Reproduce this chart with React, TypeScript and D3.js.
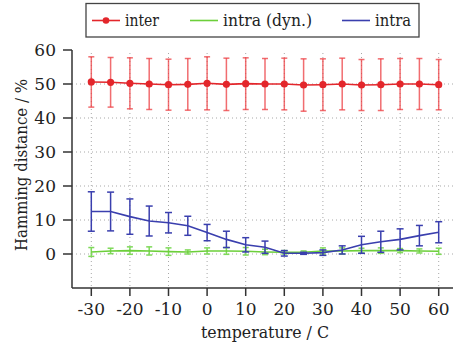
import React from 'react';
import * as d3 from 'd3';

const temps = [-30, -25, -20, -15, -10, -5, 0, 5, 10, 15, 20, 25, 30, 35, 40, 45, 50, 55, 60];
const interMean = [50.6, 50.5, 50.2, 50.0, 49.8, 49.9, 50.2, 49.9, 50.1, 50.0, 50.0, 49.7, 49.8, 50.0, 49.7, 49.8, 50.0, 50.0, 49.8];
const interStd = [7.4, 7.3, 7.5, 7.5, 7.5, 7.6, 7.8, 7.7, 7.6, 7.5, 7.6, 7.7, 7.6, 7.6, 7.5, 7.6, 7.5, 7.5, 7.4];
const dynMean = [0.6, 0.9, 1.0, 0.9, 0.7, 0.6, 0.9, 0.9, 0.8, 0.6, 0.5, 0.5, 0.9, 0.9, 1.0, 1.0, 1.0, 0.9, 0.8];
const dynStd = [1.3, 0.8, 1.1, 1.2, 1.1, 0.6, 0.9, 1.0, 1.1, 0.8, 0.5, 0.4, 0.9, 0.9, 0.7, 0.8, 0.6, 0.6, 0.9];
const intraMean = [12.5, 12.5, 11.0, 9.7, 9.2, 8.3, 6.3, 4.3, 2.7, 2.0, 0.2, 0.2, 0.4, 1.2, 2.7, 3.6, 4.3, 5.4, 6.4];
const intraStd = [5.8, 5.7, 5.2, 4.4, 3.0, 2.8, 2.4, 2.4, 2.1, 1.8, 0.8, 0.3, 0.8, 1.2, 2.5, 3.1, 3.1, 3.0, 3.1];
const xTicks = [-30, -20, -10, 0, 10, 20, 30, 40, 50, 60];
const yTicks = [0, 10, 20, 30, 40, 50, 60];

const FONT = '"DejaVu Serif", "Liberation Serif", serif';

export default function App() {
  const width = 453;
  const height = 346;
  const left = 72;
  const bottom = 288;
  const top = 50;

  const x = d3.scaleLinear().domain([-35, 65]).range([left, 458]);
  const y = d3.scaleLinear().domain([-10, 60]).range([bottom, top]);

  const line = d3.line<[number, number]>().x((d) => x(d[0])).y((d) => y(d[1]));

  const series = [
    { name: 'intra (dyn.)', mean: dynMean, std: dynStd, color: '#6ccf3a', bar: '#7fd95a', cap: 3, dot: false },
    { name: 'intra', mean: intraMean, std: intraStd, color: '#3a3fae', bar: '#3a3fae', cap: 3.5, dot: false },
    { name: 'inter', mean: interMean, std: interStd, color: '#e3262b', bar: 'rgba(236,60,64,0.75)', cap: 3, dot: true },
  ];

  const legend = [
    { name: 'inter', color: '#e3262b', dot: true, x: 92, w: 34 },
    { name: 'intra (dyn.)', color: '#6ccf3a', dot: false, x: 190, w: 89 },
    { name: 'intra', color: '#3a3fae', dot: false, x: 342, w: 36 },
  ];

  return (
    <svg width={width} height={height} style={{ position: 'absolute', left: 0, top: 0, background: '#fff' }}>
      {/* grid */}
      <g stroke="#a8a8a8" strokeWidth={1} strokeDasharray="1,3">
        {yTicks.filter((t) => t < 60).map((t) => (
          <line key={'gy' + t} x1={left} x2={width} y1={y(t)} y2={y(t)} />
        ))}
        {xTicks.map((t) => (
          <line key={'gx' + t} x1={x(t)} x2={x(t)} y1={top + 3} y2={bottom} />
        ))}
      </g>

      {/* series */}
      {series.map((s) => (
        <g key={s.name}>
          {temps.map((t, i) => {
            const cx = x(t);
            const y1 = y(s.mean[i] + s.std[i]);
            const y0 = y(s.mean[i] - s.std[i]);
            return (
              <g key={t} stroke={s.bar} strokeWidth={1.5}>
                <line x1={cx} x2={cx} y1={y1} y2={y0} />
                <line x1={cx - s.cap} x2={cx + s.cap} y1={y1} y2={y1} />
                <line x1={cx - s.cap} x2={cx + s.cap} y1={y0} y2={y0} />
              </g>
            );
          })}
          <path
            d={line(temps.map((t, i) => [t, s.mean[i]] as [number, number])) || ''}
            fill="none"
            stroke={s.color}
            strokeWidth={1.6}
          />
          {s.dot && temps.map((t, i) => (
            <circle key={'d' + t} cx={x(t)} cy={y(s.mean[i])} r={3.6} fill={s.color} />
          ))}
        </g>
      ))}

      {/* axes */}
      <g stroke="#333" strokeWidth={1.5}>
        <line x1={left} x2={left} y1={top} y2={bottom} />
        <line x1={left} x2={width} y1={bottom} y2={bottom} />
        {yTicks.map((t) => (
          <line key={'ty' + t} x1={left - 9} x2={left} y1={y(t)} y2={y(t)} />
        ))}
        {xTicks.map((t) => (
          <line key={'tx' + t} x1={x(t)} x2={x(t)} y1={bottom} y2={bottom + 8} />
        ))}
      </g>
      <g fontFamily={FONT} fontSize={17} fill="#222">
        {yTicks.map((t) => (
          <text key={'ly' + t} x={56} y={y(t)} dy="0.36em" textAnchor="end">{t}</text>
        ))}
        {xTicks.map((t) => (
          <text key={'lx' + t} x={x(t)} y={315} textAnchor="middle">{t}</text>
        ))}
        <text x={x(15)} y={338} textAnchor="middle" textLength={128} lengthAdjust="spacingAndGlyphs">temperature / C</text>
        <text transform={`translate(27,${(top + bottom) / 2 - 4}) rotate(-90)`} textAnchor="middle" textLength={172} lengthAdjust="spacingAndGlyphs">Hamming distance / %</text>
      </g>

      {/* legend */}
      <rect x={86} y={3.5} width={333} height={33.5} fill="#fff" stroke="#444" strokeWidth={1.3} />
      {legend.map((l) => (
        <g key={l.name}>
          <line x1={l.x} x2={l.x + 28} y1={20.5} y2={20.5} stroke={l.color} strokeWidth={1.6} />
          {l.dot && <circle cx={l.x + 14} cy={20.5} r={3.3} fill={l.color} />}
          <text x={l.x + 33} y={26} fontFamily={FONT} fontSize={17} fill="#222" textLength={l.w} lengthAdjust="spacingAndGlyphs">{l.name}</text>
        </g>
      ))}
    </svg>
  );
}
